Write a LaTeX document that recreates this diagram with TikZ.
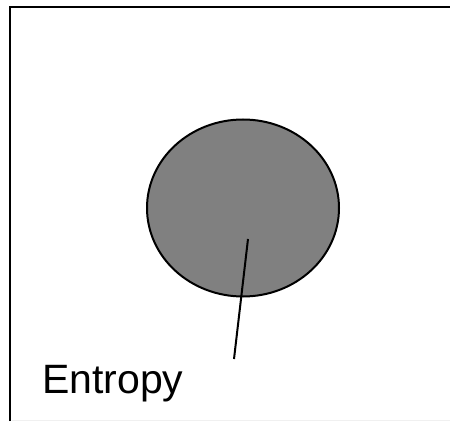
\documentclass[tikz,border=0pt]{standalone}
\usepackage{fontspec}
\setmainfont{Liberation Sans}
\usepackage{tikz}
\usetikzlibrary{positioning,shapes.geometric,calc}

\begin{document}
\begin{tikzpicture}[
  x=1pt,y=1pt,
  frameline/.style={line width=2.4pt,black},
  blob/.style={ellipse,draw,line width=2pt,fill=gray,minimum width=192pt,minimum height=177pt,inner sep=0pt},
  pointer/.style={line width=2pt,black},
  tag/.style={font=\fontsize{41}{45}\selectfont,inner sep=0pt,anchor=base west},
]
\useasboundingbox (0,0) rectangle (450,421);

% ==== FRAME ====
\draw[frameline] (10,0) -- (10,414) -- (450,414);
\draw[gray!12,line width=1pt] (12,1) -- (450,1);

% ==== ENTROPY BLOB ====
\node[blob] (ent) at (243,213) {};
\coordinate (tip) at (248,182);
\coordinate (foot) at (234,62);

% ==== LABEL ====
\node[tag] (lbl) at (42,28) {Entropy};

\draw[pointer] (tip) -- (foot);

\end{tikzpicture}
\end{document}
